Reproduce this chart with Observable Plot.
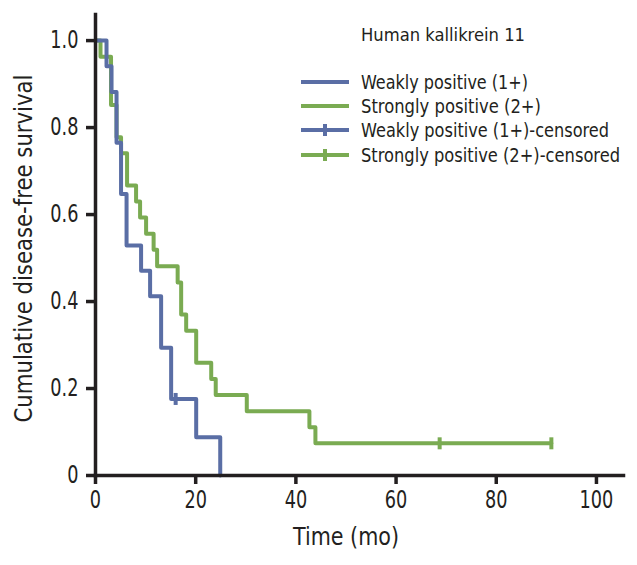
<!DOCTYPE html>
<html>
<head>
<meta charset="utf-8">
<script src="https://cdn.jsdelivr.net/npm/d3@7"></script>
<script src="https://cdn.jsdelivr.net/npm/@observablehq/plot@0.6"></script>
<style>
  html, body { margin: 0; padding: 0; background: #fff; }
  svg { font-family: "Liberation Sans Narrow", "Arial Narrow", "DejaVu Sans Condensed", sans-serif; }
</style>
</head>
<body>
<div id="chart"></div>
<script>
// Weakly positive (1+): time (mo) and cumulative disease-free survival
const weakTime = [0, 2.2, 3.2, 4.2, 5.1, 6.2, 9.1, 10.9, 13.1, 15.1, 20.1, 24.9];
const weakSurv = [1, 0.941, 0.882, 0.765, 0.647, 0.529, 0.471, 0.412, 0.294, 0.176, 0.088, 0];
const weakCensTime = [16.0];
const weakCensSurv = [0.176];

// Strongly positive (2+)
const strongTime = [0, 1.0, 3.1, 4.2, 5.1, 6.3, 8.1, 8.9, 10.1, 11.6, 12.3, 16.4, 17.1, 18.1, 20.1, 23.1, 24.0, 30.2, 42.7, 43.9, 91.0];
const strongSurv = [1, 0.963, 0.852, 0.778, 0.741, 0.667, 0.630, 0.593, 0.556, 0.519, 0.481, 0.444, 0.370, 0.333, 0.259, 0.222, 0.185, 0.148, 0.111, 0.074, 0.074];
const strongCensTime = [68.7, 91.0];
const strongCensSurv = [0.074, 0.074];

const xTicks = [0, 20, 40, 60, 80, 100];
const yTicks = [0, 0.2, 0.4, 0.6, 0.8, 1.0];

const xTitle = "Time (mo)";
const yTitle = "Cumulative disease-free survival";
const legendTitle = "Human kallikrein 11";
const legendLabels = ["Weakly positive (1+)", "Strongly positive (2+)", "Weakly positive (1+)-censored", "Strongly positive (2+)-censored"];

const blue = "#5a6ea5";
const green = "#7aab52";
const axisColor = "#231f20";

const weak = weakTime.map((t, i) => ({t, s: weakSurv[i]}));
const strong = strongTime.map((t, i) => ({t, s: strongSurv[i]}));
const weakC = weakCensTime.map((t, i) => ({t, s: weakCensSurv[i]}));
const strongC = strongCensTime.map((t, i) => ({t, s: strongCensSurv[i]}));

const vbar = { draw(ctx, size) { const h = Math.sqrt(size / Math.PI); ctx.moveTo(0, -h); ctx.lineTo(0, h); } };

const plot = Plot.plot({
  width: 637,
  height: 565,
  marginLeft: 95,
  marginRight: 14,
  marginTop: 14,
  marginBottom: 90,
  style: { fontFamily: '"Liberation Sans Narrow", "Arial Narrow", "DejaVu Sans Condensed", sans-serif', background: "#fff" },
  x: { domain: [0, 105.4] },
  y: { domain: [0, 1.06] },
  marks: [
    Plot.line(strong, { x: "t", y: "s", curve: "step-after", stroke: green, strokeWidth: 4 }),
    Plot.dot(strongC, { x: "t", y: "s", symbol: vbar, r: 6, stroke: green, strokeWidth: 4 }),
    Plot.line(weak, { x: "t", y: "s", curve: "step-after", stroke: blue, strokeWidth: 4 }),
    Plot.dot(weakC, { x: "t", y: "s", symbol: vbar, r: 6, stroke: blue, strokeWidth: 4 }),
    Plot.frame({ anchor: "left", stroke: axisColor, strokeWidth: 3.5 }),
    Plot.frame({ anchor: "bottom", stroke: axisColor, strokeWidth: 3.5 }),
    Plot.axisX({ ticks: xTicks, tickSize: 9, tickPadding: 6, strokeWidth: 3.5, stroke: axisColor, fill: axisColor, fontSize: 24, label: null, tickFormat: d => String(d) }),
    Plot.axisY({ ticks: yTicks, tickSize: 9, tickPadding: 8, strokeWidth: 3.5, stroke: axisColor, fill: axisColor, fontSize: 24, label: null, tickFormat: d => d === 0 ? "0" : d.toFixed(1) }),
    Plot.text([xTitle], { frameAnchor: "bottom", textAnchor: "middle", lineAnchor: "middle", dx: -13.5, dy: 62, fontSize: 24, fill: axisColor }),
    Plot.text([yTitle], { frameAnchor: "left", textAnchor: "middle", lineAnchor: "middle", rotate: -90, dx: -71, dy: 3.5, fontSize: 24, fill: axisColor })
  ]
});

const svg = d3.select(plot);

// narrow the tick labels to match the condensed face
svg.selectAll('g[aria-label$="tick label"] text').each(function () {
  const t = this.getAttribute("transform") || "";
  this.setAttribute("transform", t + " scale(0.82,1)");
});
// fit axis titles to their lengths (set on the innermost element holding the string)
function fit(str, len) {
  svg.selectAll("text, tspan").each(function () {
    if (this.textContent === str && this.children.length === 0) {
      this.setAttribute("textLength", len);
      this.setAttribute("lengthAdjust", "spacingAndGlyphs");
    }
  });
}
fit(xTitle, 106);
fit(yTitle, 348);

// legend drawn inside the plot
const lg = svg.append("g").attr("fill", axisColor).attr("text-anchor", "start");
lg.append("text").attr("x", 361).attr("y", 35).attr("dy", "0.35em").attr("font-size", 18)
  .attr("textLength", 164).attr("lengthAdjust", "spacingAndGlyphs").text(legendTitle);
const rowsY = [82, 106, 130, 155];
const rowColors = [blue, green, blue, green];
const rowLens = [167, 180, 248, 259];
legendLabels.forEach((lab, i) => {
  lg.append("line").attr("x1", 301).attr("x2", 349).attr("y1", rowsY[i]).attr("y2", rowsY[i])
    .attr("stroke", rowColors[i]).attr("stroke-width", 4);
  if (i >= 2) {
    lg.append("line").attr("x1", 325).attr("x2", 325).attr("y1", rowsY[i] - 6).attr("y2", rowsY[i] + 6)
      .attr("stroke", rowColors[i]).attr("stroke-width", 4);
  }
  lg.append("text").attr("x", 361).attr("y", rowsY[i]).attr("dy", "0.35em").attr("font-size", 19)
    .attr("textLength", rowLens[i]).attr("lengthAdjust", "spacingAndGlyphs").text(lab);
});

document.getElementById("chart").appendChild(plot);
</script>
</body>
</html>
